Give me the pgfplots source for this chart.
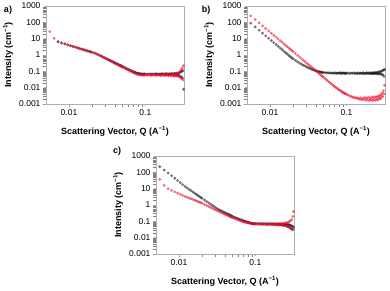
\documentclass[border=0pt]{standalone}
\usepackage{pgfplots}
\pgfplotsset{compat=1.18}
\usepackage{pgfplotstable}
\usepackage{fontspec}
\setmainfont{Liberation Sans}
\definecolor{redpt}{RGB}{240,10,45}
\definecolor{axgray}{RGB}{175,175,175}

\pgfplotstableread{
q k r
0.0056 nan 27
0.0064 nan 10.5
0.0072 6.6 6.3
0.0080 5.5 5.3
0.0088 4.8 4.75
0.0096 4.25 4.15
0.0104 3.8 3.7
0.0112 3.4 3.3
0.0120 3.1 3.05
0.0128 2.8 2.75
0.0136 2.58 2.5
0.0144 2.38 2.33
0.0152 2.2 2.14
0.0160 2.05 2.0
0.0168 1.9 1.85
0.0176 1.78 1.74
0.0184 1.68 1.63
0.0192 1.58 1.54
0.0200 1.49 1.45
0.0215 1.35 1.3
0.0230 1.18 1.13
0.0245 1.03 0.98
0.0260 0.9 0.84
0.0275 0.79 0.75
0.0290 0.70 0.65
0.0305 0.625 0.58
0.0320 0.56 0.515
0.0335 0.505 0.47
0.0350 0.455 0.415
0.0365 0.415 0.38
0.0380 0.38 0.345
0.0395 0.345 0.31
0.0410 0.318 0.29
0.0425 0.295 0.262
0.0440 0.272 0.245
0.0455 0.25 0.222
0.0470 0.232 0.208
0.0485 0.215 0.19
0.0500 0.2 0.18
0.0525 0.18 0.158
0.0550 0.162 0.145
0.0575 0.146 0.128
0.0600 0.133 0.118
0.0625 0.121 0.105
0.0650 0.111 0.098
0.0675 0.102 0.088
0.0700 0.094 0.083
0.0725 0.088 0.075
0.0750 0.083 0.072
0.0775 0.079 0.067
0.0800 0.076 0.066
0.0825 0.073 0.062
0.0850 0.071 0.064
0.0875 0.07 0.059
0.0900 0.068 0.061
0.0925 0.069 0.057
0.0950 0.067 0.062
0.0975 0.07 0.058
0.1000 0.066 0.063
0.105 0.069 0.056
0.110 0.065 0.064
0.115 0.071 0.058
0.120 0.066 0.055
0.125 0.07 0.065
0.130 0.064 0.057
0.135 0.072 0.061
0.140 0.067 0.054
0.145 0.069 0.066
0.150 0.063 0.058
0.155 0.071 0.062
0.160 0.066 0.053
0.165 0.073 0.064
0.170 0.065 0.057
0.175 0.07 0.067
0.180 0.062 0.054
0.185 0.074 0.062
0.190 0.066 0.058
0.195 0.069 0.065
0.200 0.061 0.052
0.205 0.072 0.068
0.210 0.067 0.057
0.215 0.063 0.063
0.220 0.075 0.051
0.225 0.066 0.07
0.230 0.07 0.056
0.235 0.06 0.064
0.240 0.077 0.05
0.245 0.064 0.072
0.250 0.071 0.055
0.255 0.058 0.068
0.260 0.08 0.048
0.265 0.062 0.078
0.270 0.074 0.052
0.275 0.055 0.085
0.280 0.085 0.045
0.285 0.05 0.1
0.290 0.09 0.04
0.295 0.045 0.13
0.300 0.1 0.035
0.305 0.04 0.16
0.310 0.11 0.03
0.315 0.008 0.22
}\tabA

\pgfplotstableread{
q k r
0.0056 88.7 250
0.0064 52.4 148
0.0072 32.9 92.7
0.0080 21.7 61.1
0.0088 14.9 42.1
0.0096 10.6 29.8
0.0104 7.67 21.6
0.0112 5.74 16.2
0.0120 4.37 12.3
0.0128 3.39 9.55
0.0136 2.65 7.46
0.0144 2.13 6.0
0.0152 1.71 4.83
0.0160 1.40 3.95
0.0168 1.16 3.26
0.0176 0.957 2.70
0.0184 0.805 2.27
0.0192 0.684 1.93
0.0200 0.59 1.64
0.0215 0.468 1.23
0.0230 0.38 0.94
0.0245 0.316 0.735
0.0260 0.27 0.58
0.0275 0.234 0.466
0.0290 0.204 0.378
0.0305 0.182 0.31
0.0320 0.162 0.256
0.0335 0.148 0.213
0.0350 0.135 0.18
0.0365 0.126 0.152
0.0380 0.117 0.129
0.0395 0.11 0.111
0.0410 0.105 0.0957
0.0425 0.1 0.0835
0.0440 0.0955 0.073
0.0455 0.091 0.0636
0.0470 0.089 0.056
0.0485 0.087 0.0493
0.0500 0.085 0.0438
0.0525 0.083 0.0362
0.0550 0.08 0.0302
0.0575 0.082 0.0251
0.0600 0.078 0.0214
0.0625 0.081 0.0182
0.0650 0.077 0.0155
0.0675 0.08 0.0135
0.0700 0.076 0.0117
0.0725 0.081 0.0105
0.0750 0.075 0.0093
0.0775 0.079 0.0083
0.0800 0.077 0.0074
0.0825 0.082 0.0068
0.0850 0.074 0.0062
0.0875 0.079 0.0056
0.0900 0.076 0.0051
0.0925 0.081 0.0048
0.0950 0.073 0.0045
0.0975 0.078 0.0042
0.1000 0.075 0.0039
0.105 0.08 0.0036
0.110 0.073 0.0031
0.115 0.079 0.003
0.120 0.076 0.0026
0.125 0.082 0.0026
0.130 0.072 0.0023
0.135 0.078 0.0025
0.140 0.075 0.0021
0.145 0.081 0.0023
0.150 0.073 0.0019
0.155 0.079 0.0024
0.160 0.074 0.0018
0.165 0.082 0.0022
0.170 0.071 0.0019
0.175 0.078 0.0025
0.180 0.075 0.0017
0.185 0.083 0.0023
0.190 0.072 0.0018
0.195 0.08 0.0026
0.200 0.074 0.0016
0.205 0.084 0.0022
0.210 0.071 0.0019
0.215 0.079 0.0027
0.220 0.073 0.0016
0.225 0.086 0.0024
0.230 0.07 0.0018
0.235 0.082 0.0028
0.240 0.074 0.0017
0.245 0.088 0.0025
0.250 0.069 0.0019
0.255 0.085 0.003
0.260 0.072 0.0018
0.265 0.092 0.0028
0.270 0.068 0.0022
0.275 0.095 0.0034
0.280 0.07 0.0021
0.285 0.1 0.0038
0.290 0.066 0.0027
0.295 0.11 0.0048
0.300 0.06 0.003
0.305 0.12 0.0065
0.310 0.05 0.0042
0.315 0.13 0.014
}\tabB

\pgfplotstableread{
q k r
0.0056 219 37
0.0064 138 16
0.0072 91.2 9.9
0.0080 61.9 7.8
0.0088 43.4 6.4
0.0096 31.5 5.35
0.0104 23.2 4.52
0.0112 17.6 3.88
0.0120 13.6 3.36
0.0128 11.0 2.98
0.0136 9.0 2.65
0.0144 7.52 2.39
0.0152 6.28 2.16
0.0160 5.32 1.97
0.0168 4.55 1.80
0.0176 3.88 1.64
0.0184 3.37 1.51
0.0192 2.94 1.40
0.0200 2.58 1.29
0.0215 2.05 1.09
0.0230 1.64 0.933
0.0245 1.34 0.809
0.0260 1.11 0.705
0.0275 0.925 0.621
0.0290 0.78 0.551
0.0305 0.662 0.49
0.0320 0.566 0.439
0.0335 0.509 0.397
0.0350 0.46 0.362
0.0365 0.419 0.331
0.0380 0.381 0.303
0.0395 0.349 0.279
0.0410 0.321 0.258
0.0425 0.296 0.239
0.0440 0.274 0.222
0.0455 0.253 0.207
0.0470 0.235 0.193
0.0485 0.219 0.18
0.0500 0.204 0.169
0.0525 0.183 0.152
0.0550 0.168 0.141
0.0575 0.154 0.13
0.0600 0.143 0.121
0.0625 0.132 0.113
0.0650 0.123 0.105
0.0675 0.115 0.099
0.0700 0.107 0.093
0.0725 0.101 0.089
0.0750 0.0966 0.0855
0.0775 0.0923 0.0826
0.0800 0.0883 0.0798
0.0825 0.0847 0.0773
0.0850 0.0813 0.0747
0.0875 0.0778 0.0723
0.0900 0.075 0.0708
0.0925 0.074 0.068
0.0950 0.072 0.071
0.0975 0.075 0.066
0.1000 0.071 0.07
0.105 0.074 0.065
0.110 0.07 0.071
0.115 0.075 0.064
0.120 0.069 0.069
0.125 0.073 0.063
0.130 0.068 0.07
0.135 0.074 0.064
0.140 0.067 0.068
0.145 0.072 0.062
0.150 0.066 0.07
0.155 0.073 0.063
0.160 0.067 0.069
0.165 0.071 0.061
0.170 0.065 0.071
0.175 0.072 0.062
0.180 0.064 0.069
0.185 0.07 0.06
0.190 0.063 0.072
0.195 0.071 0.062
0.200 0.062 0.07
0.205 0.069 0.059
0.210 0.061 0.073
0.215 0.07 0.06
0.220 0.06 0.071
0.225 0.068 0.058
0.230 0.058 0.075
0.235 0.069 0.057
0.240 0.056 0.077
0.245 0.067 0.055
0.250 0.054 0.08
0.255 0.066 0.052
0.260 0.05 0.085
0.265 0.065 0.048
0.270 0.046 0.09
0.275 0.062 0.045
0.280 0.042 0.1
0.285 0.06 0.04
0.290 0.038 0.11
0.295 0.055 0.035
0.300 0.035 0.13
0.305 0.05 0.03
0.310 0.032 0.2
0.315 0.045 0.4
}\tabC

\begin{document}
\begin{tikzpicture}[x=1pt,y=1pt]
\useasboundingbox (0,0) rectangle (390,290);
\begin{axis}[at={(46pt,186pt)},
    scale only axis, width=138pt, height=98pt, anchor=south west,
    xmode=log, ymode=log,
    xmin=0.005, xmax=0.32, ymin=0.001, ymax=1000,
    xtick={0.01,0.1}, xticklabels={0.01,0.1},
    ytick={0.001,0.01,0.1,1,10,100,1000},
    yticklabels={0.001,0.01,0.1,1,10,100,1000},
    xtick pos=bottom, ytick pos=left,
    tick align=outside, major tick length=2pt,
    axis line style={axgray, line width=0.6pt},
    major tick style={axgray, line width=0.6pt},
    xticklabel style={font=\fontsize{8.5}{9}\selectfont},
    yticklabel style={font=\fontsize{8.5}{9}\selectfont},
    xlabel={Scattering Vector, Q (A\textsuperscript{−1})},
    ylabel={Intensity (cm\textsuperscript{−1})},
    xlabel style={font=\bfseries\fontsize{9}{10}\selectfont, at={(axis description cs:0.5,-0.28)}, anchor=center},
    ylabel style={font=\bfseries\fontsize{9}{10}\selectfont, at={(axis description cs:-0.275,0.5)}, anchor=center},
  ]
\addplot[only marks, mark=*, mark size=1.55pt, mark options={fill=black, draw opacity=0, fill opacity=0.55}] table[x=q, y=k] {\tabA};
\addplot[only marks, mark=*, mark size=1.55pt, mark options={fill=redpt, draw opacity=0, fill opacity=0.6}] table[x=q, y=r] {\tabA};
\end{axis}
\begin{axis}[at={(247pt,186pt)},
    scale only axis, width=138pt, height=98pt, anchor=south west,
    xmode=log, ymode=log,
    xmin=0.005, xmax=0.32, ymin=0.001, ymax=1000,
    xtick={0.01,0.1}, xticklabels={0.01,0.1},
    ytick={0.001,0.01,0.1,1,10,100,1000},
    yticklabels={0.001,0.01,0.1,1,10,100,1000},
    xtick pos=bottom, ytick pos=left,
    tick align=outside, major tick length=2pt,
    axis line style={axgray, line width=0.6pt},
    major tick style={axgray, line width=0.6pt},
    xticklabel style={font=\fontsize{8.5}{9}\selectfont},
    yticklabel style={font=\fontsize{8.5}{9}\selectfont},
    xlabel={Scattering Vector, Q (A\textsuperscript{−1})},
    ylabel={Intensity (cm\textsuperscript{−1})},
    xlabel style={font=\bfseries\fontsize{9}{10}\selectfont, at={(axis description cs:0.5,-0.28)}, anchor=center},
    ylabel style={font=\bfseries\fontsize{9}{10}\selectfont, at={(axis description cs:-0.275,0.5)}, anchor=center},
  ]
\addplot[only marks, mark=*, mark size=1.55pt, mark options={fill=black, draw opacity=0, fill opacity=0.55}] table[x=q, y=k] {\tabB};
\addplot[only marks, mark=*, mark size=1.55pt, mark options={fill=redpt, draw opacity=0, fill opacity=0.6}] table[x=q, y=r] {\tabB};
\end{axis}
\begin{axis}[at={(156pt,36pt)},
    scale only axis, width=138pt, height=98pt, anchor=south west,
    xmode=log, ymode=log,
    xmin=0.005, xmax=0.32, ymin=0.001, ymax=1000,
    xtick={0.01,0.1}, xticklabels={0.01,0.1},
    ytick={0.001,0.01,0.1,1,10,100,1000},
    yticklabels={0.001,0.01,0.1,1,10,100,1000},
    xtick pos=bottom, ytick pos=left,
    tick align=outside, major tick length=2pt,
    axis line style={axgray, line width=0.6pt},
    major tick style={axgray, line width=0.6pt},
    xticklabel style={font=\fontsize{8.5}{9}\selectfont},
    yticklabel style={font=\fontsize{8.5}{9}\selectfont},
    xlabel={Scattering Vector, Q (A\textsuperscript{−1})},
    ylabel={Intensity (cm\textsuperscript{−1})},
    xlabel style={font=\bfseries\fontsize{9}{10}\selectfont, at={(axis description cs:0.5,-0.28)}, anchor=center},
    ylabel style={font=\bfseries\fontsize{9}{10}\selectfont, at={(axis description cs:-0.275,0.5)}, anchor=center},
  ]
\addplot[only marks, mark=*, mark size=1.55pt, mark options={fill=black, draw opacity=0, fill opacity=0.55}] table[x=q, y=k] {\tabC};
\addplot[only marks, mark=*, mark size=1.55pt, mark options={fill=redpt, draw opacity=0, fill opacity=0.6}] table[x=q, y=r] {\tabC};
\end{axis}
\node[font=\bfseries\fontsize{9}{10}\selectfont] at (8,280) {a)};
\node[font=\bfseries\fontsize{9}{10}\selectfont] at (206,280) {b)};
\node[font=\bfseries\fontsize{9}{10}\selectfont] at (117,139) {c)};
\end{tikzpicture}
\end{document}
